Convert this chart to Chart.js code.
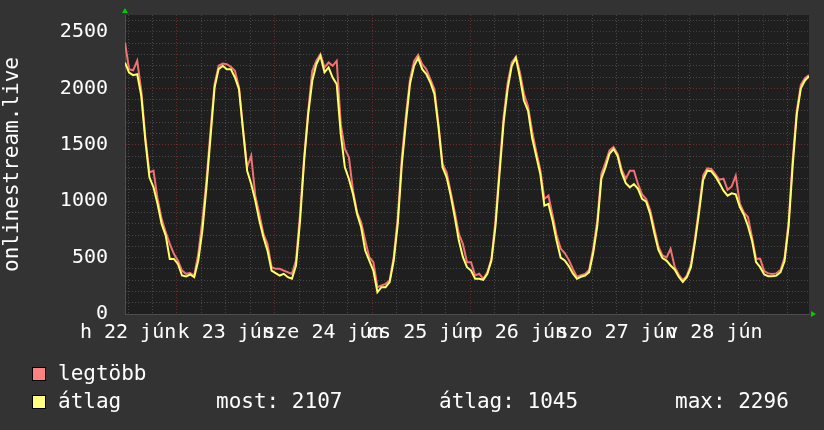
<!DOCTYPE html>
<html>
<head>
<meta charset="utf-8">
<title>onlinestream.live</title>
<script src="https://cdn.jsdelivr.net/npm/chart.js@4/dist/chart.umd.min.js"></script>
<style>
  html, body { margin: 0; padding: 0; background: #333333; }
  #wrap { width: 824px; height: 430px; }
</style>
</head>
<body>
<div id="wrap"><canvas id="mycanvas"></canvas></div>
<script>
// one sample per hour, first one at 22 jún 11:15 (hours counted from 22 jún 00:00)
var startHour = 11.25;

var maxValues = [
  2406, 2170, 2160, 2244, 1978, 1565, 1255, 1270, 1019, 843, 725, 621, 533, 473, 385, 356, 362, 341, 533, 828,
  1182, 1624, 2037, 2200, 2220, 2214, 2190, 2155, 2008, 1639, 1300, 1403, 1049, 887, 710, 621, 415, 400, 400, 385,
  370, 356, 474, 887, 1388, 1801, 2155, 2244, 2303, 2185, 2229, 2200, 2244, 1683, 1462, 1388, 1093, 902, 813, 651,
  503, 459, 238, 253, 267, 297, 503, 858, 1388, 1760, 2080, 2240, 2296, 2214, 2170, 2082, 1993, 1683, 1329, 1256,
  1079, 902, 710, 621, 459, 459, 341, 356, 312, 370, 489, 830, 1300, 1750, 2050, 2230, 2280, 2140, 1950, 1840,
  1620, 1440, 1280, 1020, 1050, 880, 700, 580, 540, 480, 400, 330, 345, 355, 390, 580, 830, 1240, 1340, 1450,
  1480, 1420, 1280, 1200, 1270, 1270, 1150, 1060, 1020, 920, 760, 600, 520, 500, 577, 420, 350, 300, 340, 440,
  670, 940, 1230, 1290, 1285, 1240, 1190, 1200, 1100, 1130, 1226, 980, 900, 860, 680, 490, 489, 380, 360, 355,
  360, 390, 500, 820, 1370, 1800, 2030, 2090, 2117
];
var avgValues = [
  2229, 2140, 2117, 2125, 1934, 1536, 1211, 1123, 975, 798, 695, 488, 488, 444, 341, 332, 350, 326, 474, 739,
  1123, 1565, 2007, 2170, 2200, 2170, 2170, 2096, 1993, 1624, 1270, 1152, 1005, 828, 680, 562, 385, 362, 341, 356,
  326, 312, 430, 828, 1359, 1771, 2067, 2214, 2288, 2141, 2185, 2096, 2037, 1594, 1300, 1197, 1064, 887, 769, 562,
  474, 385, 194, 238, 238, 282, 474, 798, 1329, 1700, 2040, 2200, 2270, 2170, 2126, 2052, 1949, 1654, 1300, 1211,
  1049, 857, 651, 503, 415, 385, 312, 312, 303, 356, 474, 780, 1250, 1700, 2000, 2200, 2270, 2096, 1890, 1801,
  1560, 1400, 1241, 960, 975, 830, 651, 500, 474, 425, 360, 312, 330, 341, 370, 540, 780, 1200, 1300, 1420,
  1462, 1400, 1250, 1160, 1123, 1152, 1110, 1020, 995, 887, 720, 570, 495, 474, 430, 395, 330, 285, 326, 415,
  640, 900, 1190, 1270, 1265, 1220, 1160, 1093, 1049, 1070, 1060, 950, 880, 780, 650, 460, 415, 350, 335, 335,
  340, 370, 470, 780, 1320, 1771, 2000, 2070, 2107
];

var dayLabels = ['h 22 jún', 'k 23 jún', 'sze 24 jún', 'cs 25 jún', 'p 26 jún', 'szo 27 jún', 'v 28 jún'];
var dayNoons = [12, 36, 60, 84, 108, 132, 156];
var gridHours = [12, 18, 24, 30, 36, 42, 48, 54, 60, 66, 72, 78, 84, 90, 96, 102, 108, 114,
                 120, 126, 132, 138, 144, 150, 156, 162, 168, 174];
var statTexts = ['most: 2107', 'átlag: 1045', 'max: 2296'];

var monoFont = '"DejaVu Sans Mono", "Liberation Mono", monospace';
var majorGrid = '#6a2c2c';
var minorGrid = '#474747';

function points(values) {
  var out = [];
  for (var i in values) {
    out.push({ x: startHour + Number(i), y: values[i] });
  }
  return out;
}

var rrdLook = {
  id: 'rrdLook',
  beforeDraw: function(chart) {
    var ctx = chart.ctx, a = chart.chartArea;
    ctx.save();
    ctx.fillStyle = '#333333';
    ctx.fillRect(0, 0, chart.width, chart.height);
    ctx.fillStyle = '#1f1f1f';
    ctx.fillRect(a.left, a.top, a.right - a.left, a.bottom - a.top);
    ctx.restore();
  },
  afterDraw: function(chart) {
    var ctx = chart.ctx, a = chart.chartArea;
    ctx.save();
    // little green arrows at the axis ends
    ctx.fillStyle = '#00cc00';
    ctx.beginPath();
    ctx.moveTo(a.left, 8); ctx.lineTo(a.left - 3, 13); ctx.lineTo(a.left + 3, 13);
    ctx.fill();
    ctx.beginPath();
    ctx.moveTo(a.right + 7, a.bottom); ctx.lineTo(a.right + 2, a.bottom - 3); ctx.lineTo(a.right + 2, a.bottom + 3);
    ctx.fill();

    // legend rows
    ctx.font = '21px ' + monoFont;
    ctx.textBaseline = 'alphabetic';
    var rowY = [380, 408];
    chart.data.datasets.forEach(function(ds, k) {
      ctx.fillStyle = ds.backgroundColor;
      ctx.fillRect(32, rowY[k] - 13, 14, 14);
      ctx.strokeStyle = '#000000';
      ctx.lineWidth = 1;
      ctx.strokeRect(32.5, rowY[k] - 12.5, 13, 13);
      ctx.fillStyle = '#ffffff';
      ctx.fillText(ds.label, 58, rowY[k]);
    });
    var statX = [216, 439, 675];
    for (var s in statTexts) {
      ctx.fillText(statTexts[s], statX[s], rowY[1]);
    }
    ctx.restore();
  }
};

var ctx = document.getElementById('mycanvas');

var lineChart = new Chart(ctx, {
  type: 'line',
  data: {
    datasets: [
      {
        label: 'legtöbb',
        data: points(maxValues),
        borderColor: '#f07272',
        backgroundColor: '#ff8080',
        borderWidth: 2,
        pointRadius: 0,
        tension: 0,
        order: 1
      },
      {
        label: 'átlag',
        data: points(avgValues),
        borderColor: '#ffff66',
        backgroundColor: '#ffff80',
        borderWidth: 2,
        pointRadius: 0,
        tension: 0,
        order: 0
      }
    ]
  },
  options: {
    responsive: true,
    maintainAspectRatio: false,
    animation: false,
    devicePixelRatio: 1,
    layout: { padding: { top: 15, right: 15, left: 0, bottom: 0 } },
    plugins: {
      legend: { display: false },
      tooltip: { enabled: false }
    },
    scales: {
      x: {
        type: 'linear',
        min: startHour,
        max: startHour + 168,
        afterBuildTicks: function(scale) {
          scale.ticks = gridHours.map(function(h) { return { value: h }; });
        },
        afterFit: function(scale) {
          scale.height = 116;
          scale.paddingLeft = 0;
          scale.paddingRight = 0;
        },
        ticks: {
          autoSkip: false,
          maxRotation: 0,
          minRotation: 0,
          padding: 7,
          color: '#ffffff',
          font: { family: monoFont, size: 20 },
          callback: function(value) {
            var k = dayNoons.indexOf(value);
            return k >= 0 ? dayLabels[k] : '';
          }
        },
        grid: {
          drawTicks: false,
          color: function(c) {
            return c.tick && c.tick.value % 24 === 0 ? majorGrid : minorGrid;
          }
        },
        border: { color: '#4d4d4d', width: 1, dash: [1, 2] }
      },
      y: {
        min: 0,
        max: 2650,
        afterFit: function(scale) {
          scale.width = 125;
          scale.paddingTop = 0;
          scale.paddingBottom = 0;
        },
        title: {
          display: true,
          text: 'onlinestream.live',
          color: '#ffffff',
          padding: 0,
          font: { family: monoFont, size: 21 }
        },
        ticks: {
          stepSize: 100,
          includeBounds: false,
          autoSkip: false,
          padding: 17,
          color: '#ffffff',
          font: { family: monoFont, size: 20 },
          callback: function(value) {
            return value % 500 === 0 ? String(value) : '';
          }
        },
        grid: {
          drawTicks: false,
          color: function(c) {
            return c.tick && c.tick.value % 500 === 0 ? majorGrid : minorGrid;
          }
        },
        border: { color: '#4d4d4d', width: 1, dash: [1, 2] }
      }
    }
  },
  plugins: [rrdLook]
});
</script>
</body>
</html>
